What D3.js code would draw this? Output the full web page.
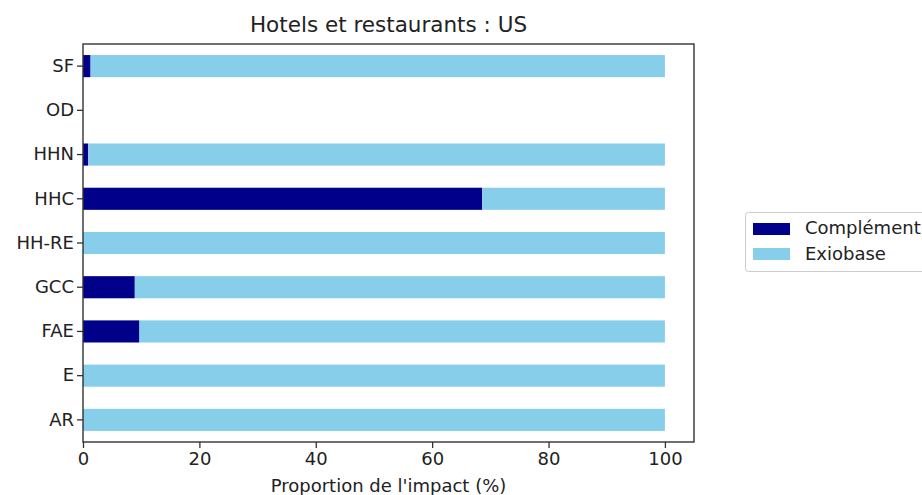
<!DOCTYPE html>
<html>
<head>
<meta charset="utf-8">
<script src="https://cdn.jsdelivr.net/npm/d3@7"></script>
<style>
  html, body { margin: 0; padding: 0; background: #fff; }
  svg { display: block; font-family: "DejaVu Sans", sans-serif; }
</style>
</head>
<body>
<svg id="chart" width="922" height="495"></svg>
<script>
// Categories, listed bottom to top
const categories = ["AR", "E", "FAE", "GCC", "HH-RE", "HHC", "HHN", "OD", "SF"];
// Share of impact (%) per category
const complement = [0, 0, 9.7, 8.9, 0, 68.6, 0.9, 0, 1.3];
const exiobase   = [100, 100, 90.3, 91.1, 100, 31.4, 99.1, 0, 98.7];
const seriesNames = ["Complément", "Exiobase"];
const seriesColors = ["#00008b", "#87ceeb"];
const xTicks = [0, 20, 40, 60, 80, 100];

const svg = d3.select("#chart");
const margin = { left: 83, right: 228, top: 44, bottom: 53 };
const W = 922, H = 495;
const plotW = W - margin.left - margin.right;
const plotH = H - margin.top - margin.bottom;

const x = d3.scaleLinear().domain([0, 105]).range([margin.left, margin.left + plotW]);
const y = d3.scaleBand().domain(categories.slice().reverse())
  .range([margin.top, margin.top + plotH]).paddingInner(0.5).paddingOuter(0.25);

const rows = categories.map((c, i) => ({ cat: c, "Complément": complement[i], "Exiobase": exiobase[i] }));
const stacked = d3.stack().keys(seriesNames)(rows);

const g = svg.append("g");
stacked.forEach((layer, k) => {
  g.selectAll(null).data(layer).join("rect")
    .attr("x", d => x(d[0]))
    .attr("width", d => Math.max(0, x(d[1]) - x(d[0])))
    .attr("y", d => y(d.data.cat))
    .attr("height", y.bandwidth())
    .attr("fill", seriesColors[k]);
});

// Frame
svg.append("rect")
  .attr("x", margin.left).attr("y", margin.top)
  .attr("width", plotW).attr("height", plotH)
  .attr("fill", "none").attr("stroke", "#333").attr("stroke-width", 1.4);

// Axes
const xAxis = svg.append("g")
  .attr("transform", `translate(0,${margin.top + plotH})`)
  .call(d3.axisBottom(x).tickValues(xTicks).tickSize(6).tickPadding(4));
const yAxis = svg.append("g")
  .attr("transform", `translate(${margin.left},0)`)
  .call(d3.axisLeft(y).tickSize(6).tickPadding(3));
[xAxis, yAxis].forEach(a => {
  a.select(".domain").remove();
  a.selectAll("line").attr("stroke", "#333").attr("stroke-width", 1.3);
  a.selectAll("text").attr("fill", "#222").style("font-size", "18px")
    .style("font-family", "'DejaVu Sans', sans-serif");
});

// Title and axis label
svg.append("text")
  .attr("x", margin.left + plotW / 2).attr("y", 32)
  .attr("text-anchor", "middle").attr("fill", "#222")
  .style("font-size", "21.5px").text("Hotels et restaurants : US");
svg.append("text")
  .attr("x", margin.left + plotW / 2).attr("y", 492)
  .attr("text-anchor", "middle").attr("fill", "#222")
  .style("font-size", "18px").text("Proportion de l'impact (%)");

// Legend
const lg = svg.append("g").attr("transform", "translate(745,212)");
lg.append("rect").attr("x", 0.5).attr("y", 0.5).attr("width", 200).attr("height", 59)
  .attr("rx", 3).attr("fill", "#fff").attr("stroke", "#ccc");
seriesNames.forEach((name, i) => {
  lg.append("rect").attr("x", 8).attr("y", 11 + i * 25).attr("width", 37).attr("height", 12)
    .attr("fill", seriesColors[i]);
  lg.append("text").attr("x", 60).attr("y", 22 + i * 26)
    .attr("fill", "#222").style("font-size", "18px").text(name);
});
</script>
</body>
</html>
